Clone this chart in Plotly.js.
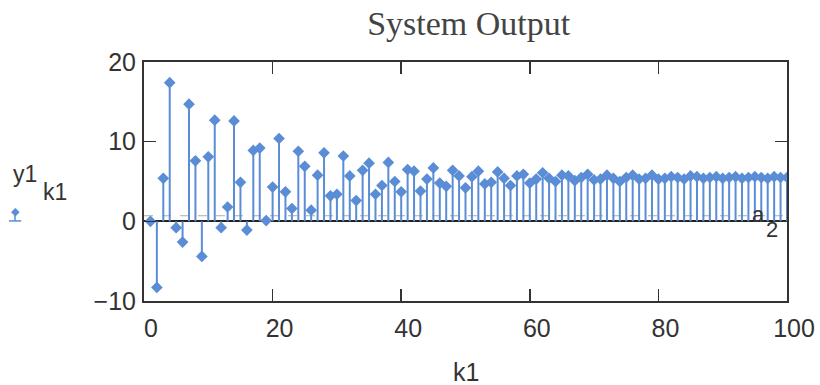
<!DOCTYPE html>
<html>
<head>
<meta charset="utf-8">
<script src="https://cdn.plot.ly/plotly-3.0.1.min.js"></script>
<style>html,body{margin:0;padding:0;background:#fff;}#chart{width:820px;height:385px;}</style>
</head>
<body>
<div id="chart"></div>
<script>
// System output y1 for k1 = 1..100
const y1 = [
  0, -8.3, 5.4, 17.4, -0.8, -2.6, 14.7, 7.6, -4.4, 8.1,
  12.7, -0.8, 1.8, 12.6, 4.9, -1.1, 8.9, 9.2, 0.1, 4.3,
  10.4, 3.7, 1.6, 8.8, 6.9, 1.4, 5.8, 8.6, 3.2, 3.4,
  8.2, 5.7, 2.6, 6.4, 7.3, 3.4, 4.5, 7.4, 5.0, 3.7,
  6.5, 6.3, 3.8, 5.3, 6.7, 4.8, 4.4, 6.4, 5.7, 4.2,
  5.6, 6.3, 4.7, 4.9, 6.2, 5.4, 4.5, 5.7, 5.9, 4.8,
  5.3, 6.1, 5.4, 5.0, 5.8, 5.7, 5.1, 5.5, 5.9, 5.2,
  5.3, 5.8, 5.4, 5.0, 5.5, 5.8, 5.3, 5.4, 5.8, 5.3,
  5.4, 5.6, 5.5, 5.3, 5.7, 5.6, 5.4, 5.5, 5.6, 5.4,
  5.5, 5.6, 5.4, 5.5, 5.6, 5.5, 5.4, 5.6, 5.5, 5.5
];
const k1 = y1.map((_, i) => i + 1);
const xTicks = [0, 20, 40, 60, 80, 100];
const yTicks = [-10, 0, 10, 20];
const a2Level = 0.7;

const blue = '#5a8dd6';
const stemX = [], stemY = [];
k1.forEach((k, i) => { stemX.push(k, k, null); stemY.push(0, y1[i], null); });

const traces = [
  {x: stemX, y: stemY, mode: 'lines', line: {color: blue, width: 2}, hoverinfo: 'skip', showlegend: false},
  {x: k1, y: y1, mode: 'markers', marker: {symbol: 'diamond', size: 9, color: blue}, showlegend: false}
];

const axisCommon = {
  showline: true, linecolor: '#333', linewidth: 2, mirror: 'ticks',
  ticks: 'inside', ticklen: 12, tickwidth: 1.5, tickcolor: '#333',
  showgrid: false, tickfont: {family: 'Liberation Sans, Arial, sans-serif', size: 25, color: '#333'}
};

const layout = {
  width: 820, height: 385,
  margin: {l: 144, r: 33, t: 62, b: 84},
  paper_bgcolor: '#fff', plot_bgcolor: '#fff',
  title: {text: 'System Output', font: {family: 'Liberation Serif, Times New Roman, serif', size: 34, color: '#444'},
          x: 0.505, xref: 'paper', y: 0.94, yref: 'container', yanchor: 'middle'},
  xaxis: Object.assign({}, axisCommon, {range: [0, 100], tickvals: xTicks, zeroline: false,
          ticklabelstandoff: 4, ticklabelshift: 7}),
  yaxis: Object.assign({}, axisCommon, {range: [-10, 20], tickvals: yTicks, ticklabelstandoff: 1,
          zeroline: true, zerolinecolor: '#222', zerolinewidth: 2}),
  shapes: [
    {type: 'line', xref: 'paper', yref: 'y', x0: 0, x1: 1, y0: a2Level, y1: a2Level,
     line: {color: '#aaa', width: 1, dash: 'dash'}, layer: 'below'},
    {type: 'line', xref: 'paper', yref: 'paper', x0: -0.210, x1: -0.191, y0: 0.335, y1: 0.335,
     line: {color: blue, width: 1.5}},
    {type: 'line', xref: 'paper', yref: 'paper', x0: -0.2006, x1: -0.2006, y0: 0.335, y1: 0.37,
     line: {color: blue, width: 1.5}}
  ],
  annotations: [
    {text: 'k1', xref: 'paper', yref: 'paper', x: 0.5, y: -0.297, yanchor: 'middle', showarrow: false,
     font: {family: 'Liberation Sans, Arial, sans-serif', size: 25, color: '#333'}},
    {text: 'y1', xref: 'paper', yref: 'paper', x: -0.207, xanchor: 'left', y: 0.53, yanchor: 'middle', showarrow: false,
     font: {family: 'Liberation Sans, Arial, sans-serif', size: 23, color: '#333'}},
    {text: 'k1', xref: 'paper', yref: 'paper', x: -0.16, xanchor: 'left', y: 0.455, yanchor: 'middle', showarrow: false,
     font: {family: 'Liberation Sans, Arial, sans-serif', size: 23, color: '#333'}},
    {text: '◆', xref: 'paper', yref: 'paper', x: -0.21, y: 0.375, yanchor: 'middle', showarrow: false,
     font: {family: 'DejaVu Sans, sans-serif', size: 11, color: blue}},
    {text: 'a', xref: 'x', yref: 'paper', x: 95.5, y: 0.36, yanchor: 'middle', showarrow: false,
     font: {family: 'Liberation Sans, Arial, sans-serif', size: 22, color: '#333'}},
    {text: '2', xref: 'x', yref: 'paper', x: 97.6, y: 0.30, yanchor: 'middle', showarrow: false,
     font: {family: 'Liberation Sans, Arial, sans-serif', size: 22, color: '#333'}}
  ]
};

Plotly.newPlot('chart', traces, layout, {displayModeBar: false, staticPlot: true});
</script>
</body>
</html>
